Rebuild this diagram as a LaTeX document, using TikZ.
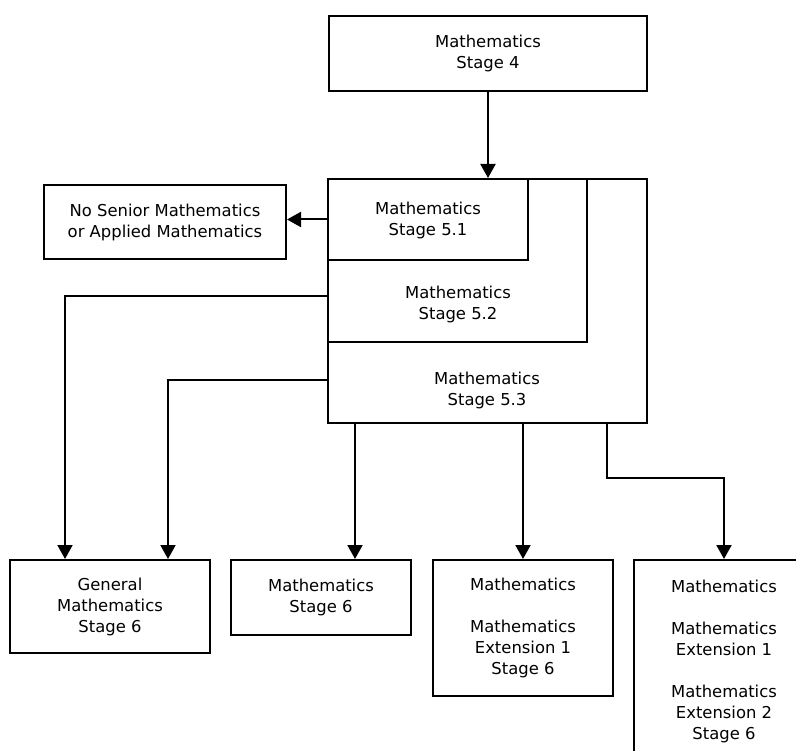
\documentclass[tikz,border=0pt]{standalone}
\usepackage{fontspec}
\setmainfont{DejaVu Sans}
\usetikzlibrary{positioning,arrows.meta}

\begin{document}
\begin{tikzpicture}[x=1pt, y=-1pt, node distance=19pt,
    font=\fontsize{16.4}{21}\selectfont,
    box/.style={draw, rectangle, line width=2pt, align=center, inner sep=0pt},
    txt/.style={align=center, inner sep=0pt},
    arr/.style={-{Triangle[length=14pt,width=15pt]}, line width=2pt}]
    \useasboundingbox (0,0) rectangle (796,751);
    \clip (0,0) rectangle (796,751);
    % Nodes
    \node [box, minimum width=318pt, minimum height=75pt] (stage4) at (488,53.5) {Mathematics\\Stage 4};

    \node [box, minimum width=319pt, minimum height=244pt] (s53) at (487.5,301) {};
    \node [box, minimum width=259pt, minimum height=163pt, anchor=north west] (s52) at (s53.north west) {};
    \node [box, minimum width=200pt, minimum height=81pt, anchor=north west] (s51) at (s53.north west) {};
    \node [txt] (t51) at (428,220) {Mathematics\\Stage 5.1};
    \node [txt] (t52) at (458,304) {Mathematics\\Stage 5.2};
    \node [txt] (t53) at (487,390) {Mathematics\\Stage 5.3};

    \node [box, minimum width=242pt, minimum height=74pt] (nosenior) at (165,222) {No Senior Mathematics\\or Applied Mathematics};

    \node [box, minimum width=200pt, minimum height=93pt, anchor=north west] (gen) at (9,559) {General\\Mathematics\\Stage 6};
    \node [box, minimum width=180pt, minimum height=75pt, right=of gen.north east, anchor=north west] (stage6) {Mathematics\\Stage 6};
    \node [box, minimum width=180pt, minimum height=136pt, right=20pt of stage6.north east, anchor=north west] (ext1) {Mathematics\\[21pt]Mathematics\\Extension 1\\Stage 6};
    \node [box, minimum width=180pt, minimum height=202pt, right=of ext1.north east, anchor=north west] (ext2) {Mathematics\\[21pt]Mathematics\\Extension 1\\[21pt]Mathematics\\Extension 2\\Stage 6};
    \coordinate (bend) at (607,478);
    % Arrows
    \draw [arr] (stage4.south) -- (stage4.south |- s53.north);
    \draw [arr] (s51.west) -- (s51.west -| nosenior.east);
    \draw [arr] ([yshift=-118pt]s53.north west) -| ([xshift=-45pt]gen.north);
    \draw [arr] ([yshift=-202pt]s53.north west) -| ([xshift=58pt]gen.north);
    \draw [arr] ([xshift=34pt]stage6.north |- s53.south) -- ([xshift=34pt]stage6.north);
    \draw [arr] (ext1.north |- s53.south) -- (ext1.north);
    \draw [arr] (bend |- s53.south) -- (bend) -| (ext2.north);
\end{tikzpicture}
\end{document}
